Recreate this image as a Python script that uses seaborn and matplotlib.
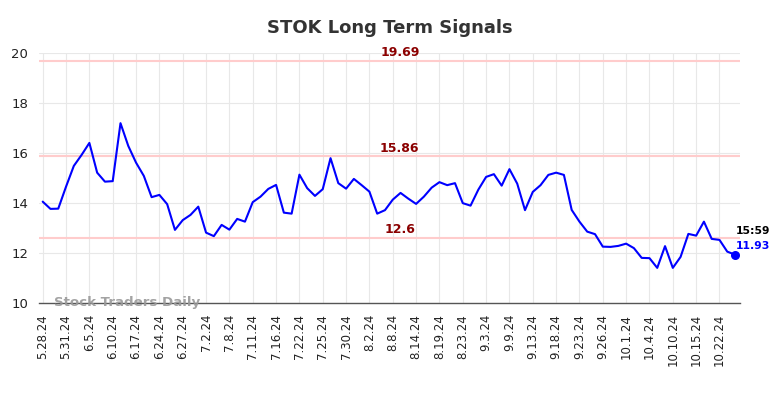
import matplotlib
matplotlib.use("Agg")
import matplotlib.pyplot as plt
import pandas as pd
import seaborn as sns

# === 資料 ===
values = [14.05, 13.76, 13.77, 14.65, 15.48, 15.92, 16.40, 15.21, 14.85, 14.87,
          17.19, 16.28, 15.61, 15.08, 14.23, 14.32, 13.95, 12.92, 13.31, 13.52,
          13.85, 12.81, 12.67, 13.12, 12.93, 13.36, 13.25, 14.03, 14.25, 14.56,
          14.72, 13.61, 13.57, 15.13, 14.59, 14.28, 14.55, 15.79, 14.79, 14.57,
          14.96, 14.71, 14.45, 13.57, 13.71, 14.13, 14.40, 14.17, 13.96, 14.25,
          14.61, 14.83, 14.71, 14.79, 13.99, 13.89, 14.53, 15.04, 15.15, 14.69,
          15.35, 14.77, 13.71, 14.44, 14.71, 15.12, 15.21, 15.12, 13.72, 13.25,
          12.85, 12.75, 12.25, 12.24, 12.28, 12.37, 12.19, 11.80, 11.79, 11.40,
          12.27, 11.40, 11.84, 12.76, 12.69, 13.25, 12.56, 12.52, 12.05, 11.93]
tick_labels = ["5.28.24", "5.31.24", "6.5.24", "6.10.24", "6.17.24", "6.24.24",
               "6.27.24", "7.2.24", "7.8.24", "7.11.24", "7.16.24", "7.22.24",
               "7.25.24", "7.30.24", "8.2.24", "8.8.24", "8.14.24", "8.19.24",
               "8.23.24", "9.3.24", "9.9.24", "9.13.24", "9.18.24", "9.23.24",
               "9.26.24", "10.1.24", "10.4.24", "10.10.24", "10.15.24", "10.22.24"]
levels = [19.69, 15.86, 12.6]
level_labels = ["19.69", "15.86", "12.6"]
last_time = "15:59"

df = pd.DataFrame({"idx": range(len(values)), "price": values})

# === 繪圖 ===
sns.set_theme(style="whitegrid")
plt.rcParams['font.family'] = ['DejaVu Sans']
fig, ax = plt.subplots(figsize=(7.84, 3.98), dpi=100)
fig.subplots_adjust(left=0.05, right=0.944, top=0.867, bottom=0.239)

sns.lineplot(data=df, x="idx", y="price", color="#0000ff", linewidth=1.5, ax=ax)
ax.scatter([df["idx"].iloc[-1]], [values[-1]], color="#0000ff", s=30, zorder=5)

# 支撐/壓力線
label_y = [20.0, 16.16, 12.92]
for lv, lab, ty in zip(levels, level_labels, label_y):
    ax.axhline(lv, color="#ffcccc", linewidth=1.5, zorder=1)
    ax.text(45.9, ty, lab, color="#8b0000", fontsize=9, fontweight="bold",
            ha="center", va="center")

# 最後一點標註
n = len(values) - 1
ax.annotate(last_time, (n, values[-1]), xytext=(0.5, 17), textcoords="offset points",
            fontsize=7.8, fontweight="bold", color="black", va="center")
ax.annotate(f"{values[-1]:.2f}", (n, values[-1]), xytext=(0.5, 6.5), textcoords="offset points",
            fontsize=7.8, fontweight="bold", color="#0000ff", va="center")

# 浮水印
ax.text(1.4, 10.0, "Stock Traders Daily", color="#999999", fontsize=9.6,
        fontweight="bold", alpha=0.9, va="center", ha="left")

# 軸設定
ax.set_xlim(-0.45, n + 0.65)
ax.set_ylim(10, 20)
ax.set_yticks([10, 12, 14, 16, 18, 20])
ax.set_xticks(list(range(0, len(values), 3)))
ax.set_xticklabels(tick_labels, rotation=90, fontsize=8.5, color="#222222")
ax.tick_params(axis="y", labelsize=9.5, pad=2, labelcolor="#222222")
ax.tick_params(axis="x", pad=2)
ax.grid(True, color="#e8e8e8", linewidth=0.8)
ax.set_xlabel("")
ax.set_ylabel("")
for side in ["left", "right", "top"]:
    ax.spines[side].set_visible(False)
ax.spines["bottom"].set_color("#555555")
ax.spines["bottom"].set_linewidth(1)

ax.set_title("STOK Long Term Signals", fontsize=13, fontweight="bold", color="#333333", pad=14)

fig.savefig("out.png", dpi=100)
plt.close(fig)
